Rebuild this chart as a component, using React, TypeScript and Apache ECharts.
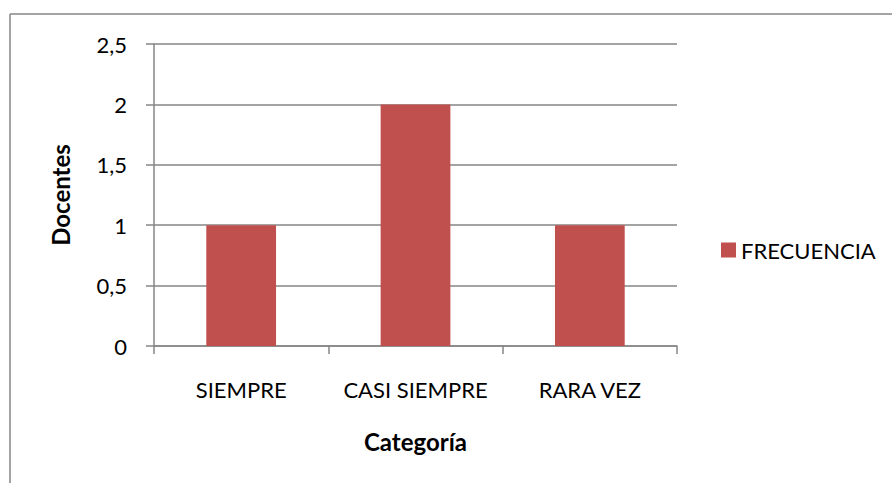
import React, { useEffect, useRef } from "react";
import * as echarts from "echarts";

const categories = ["SIEMPRE", "CASI SIEMPRE", "RARA VEZ"];
const frecuencia = [1, 2, 1];
const seriesName = "FRECUENCIA";
const yTitle = "Docentes";
const xTitle = "Categoría";

const FONT = "Lato, 'Open Sans', sans-serif";
const FS = 22;
const TFS = 24;

export default function App() {
  const ref = useRef<HTMLDivElement>(null);
  useEffect(() => {
    const chart = echarts.init(ref.current!, null, { renderer: "svg" });
    chart.setOption({
      animation: false,
      backgroundColor: "#fff",
      textStyle: { fontFamily: FONT },
      grid: { left: 154, right: 215, top: 44, bottom: 137 },
      legend: {
        data: [seriesName],
        left: 716,
        top: 234,
        orient: "vertical",
        icon: "rect",
        itemWidth: 15,
        itemHeight: 15,
        itemGap: 6,
        textStyle: { fontFamily: FONT, fontSize: FS, color: "#000" },
      },
      xAxis: {
        type: "category",
        data: categories,
        name: xTitle,
        nameLocation: "middle",
        nameGap: 83,
        nameTextStyle: { fontFamily: FONT, fontSize: TFS, fontWeight: "bold", color: "#000" },
        axisLine: { lineStyle: { color: "#868686", width: 1.5 } },
        axisTick: { show: true, length: 8, lineStyle: { color: "#868686", width: 1.5 } },
        axisLabel: { fontFamily: FONT, fontSize: FS, color: "#000", margin: 32, interval: 0 },
      },
      yAxis: {
        type: "value",
        min: 0,
        max: 2.5,
        interval: 0.5,
        name: yTitle,
        nameLocation: "middle",
        nameGap: 82,
        nameTextStyle: { fontFamily: FONT, fontSize: TFS, fontWeight: "bold", color: "#000" },
        axisLine: { show: true, lineStyle: { color: "#868686", width: 1.5 } },
        axisTick: { show: true, length: 8, lineStyle: { color: "#868686", width: 1.5 } },
        splitLine: { lineStyle: { color: "#868686", width: 1.5 } },
        axisLabel: {
          fontFamily: FONT,
          fontSize: FS,
          color: "#000",
          margin: 27,
          formatter: (v: number) => String(v).replace(".", ","),
        },
      },
      series: [
        {
          name: seriesName,
          type: "bar",
          data: frecuencia,
          barWidth: "40%",
          itemStyle: { color: "#C0504D" },
        },
      ],
      graphic: [
        { type: "line", shape: { x1: 10, y1: 14, x2: 892, y2: 14 }, style: { stroke: "#868686", lineWidth: 1.5 } },
        { type: "line", shape: { x1: 10, y1: 14, x2: 10, y2: 483 }, style: { stroke: "#868686", lineWidth: 1.5 } },
      ],
    });
    return () => chart.dispose();
  }, []);
  return (
    <div
      ref={ref}
      style={{ width: 892, height: 483, position: "absolute", left: 0, top: 0 }}
    />
  );
}
